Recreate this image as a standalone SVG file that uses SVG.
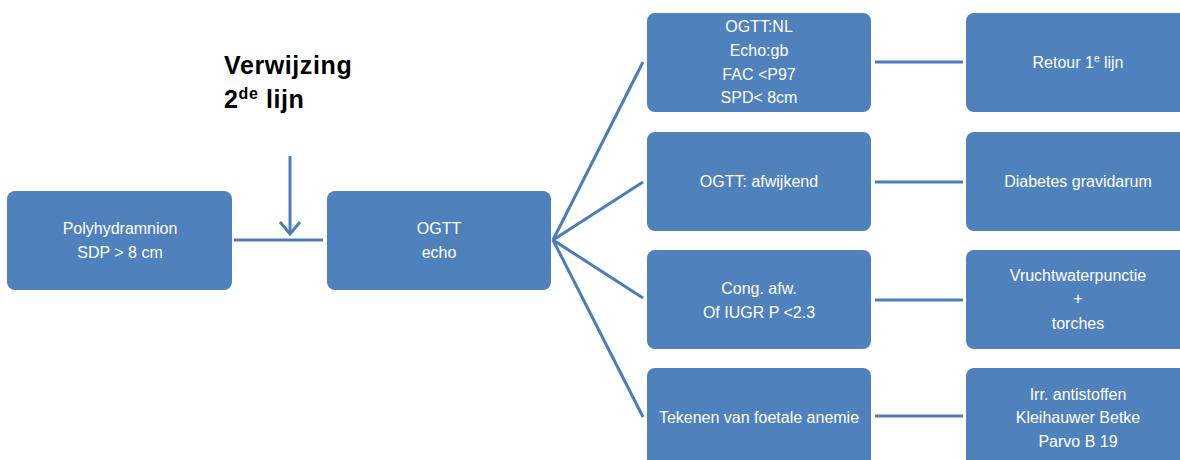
<svg xmlns="http://www.w3.org/2000/svg" width="1180" height="460" viewBox="0 0 1180 460">
<style>
.box{fill:#4F81BD;}
.t{fill:#FFFFFF;font-family:"Liberation Sans",Arial,sans-serif;font-size:16px;text-anchor:middle;}
.con{stroke:#4A7EBB;stroke-width:3;fill:none;}
.lbl{fill:#000000;font-family:"Liberation Sans",Arial,sans-serif;font-size:25px;font-weight:bold;letter-spacing:0.6px;}
</style>
<rect width="1180" height="460" fill="#FFFFFF"/>
<g id="connectors">
<line class="con" x1="234" y1="240" x2="323" y2="240"/>
<line class="con" x1="290" y1="156" x2="290" y2="234"/>
<polyline class="con" points="280,222 290,234 300,222"/>
<line class="con" x1="553" y1="240" x2="643" y2="62"/>
<line class="con" x1="553" y1="240" x2="643" y2="182"/>
<line class="con" x1="553" y1="240" x2="643" y2="298"/>
<line class="con" x1="553" y1="240" x2="643" y2="417"/>
<line class="con" x1="875" y1="62" x2="963" y2="62"/>
<line class="con" x1="875" y1="182" x2="963" y2="182"/>
<line class="con" x1="875" y1="300" x2="963" y2="300"/>
<line class="con" x1="875" y1="416" x2="963" y2="416"/>
</g>
<g id="label-verwijzing">
<text class="lbl" x="224" y="74">Verwijzing</text>
<text class="lbl" x="224" y="108">2<tspan font-size="16" dy="-9">de</tspan><tspan dy="9"> lijn</tspan></text>
</g>
<g id="n-polyhydramnion">
<rect class="box" x="7" y="191" width="225" height="99" rx="8"/>
<text class="t" x="120" y="234">Polyhydramnion</text>
<text class="t" x="120" y="258">SDP &gt; 8 cm</text>
</g>
<g id="n-ogtt-echo">
<rect class="box" x="327" y="191" width="224" height="99" rx="8"/>
<text class="t" x="439" y="234">OGTT</text>
<text class="t" x="439" y="258">echo</text>
</g>
<g id="n-ogtt-nl">
<rect class="box" x="647" y="13" width="224" height="99" rx="8"/>
<text class="t" x="759" y="32">OGTT:NL</text>
<text class="t" x="759" y="56">Echo:gb</text>
<text class="t" x="759" y="80">FAC &lt;P97</text>
<text class="t" x="759" y="103">SPD&lt; 8cm</text>
</g>
<g id="n-ogtt-afwijkend">
<rect class="box" x="647" y="132" width="224" height="99" rx="8"/>
<text class="t" x="759" y="187">OGTT: afwijkend</text>
</g>
<g id="n-cong">
<rect class="box" x="647" y="250" width="224" height="99" rx="8"/>
<text class="t" x="759" y="294">Cong. afw.</text>
<text class="t" x="759" y="318">Of IUGR P &lt;2.3</text>
</g>
<g id="n-anemie">
<rect class="box" x="647" y="368" width="224" height="110" rx="8"/>
<text class="t" x="759" y="423">Tekenen van foetale anemie</text>
</g>
<g id="n-retour">
<rect class="box" x="966" y="13" width="224" height="99" rx="8"/>
<text class="t" x="1078" y="68">Retour 1<tspan font-size="10" dy="-6">e</tspan><tspan dy="6"> lijn</tspan></text>
</g>
<g id="n-diabetes">
<rect class="box" x="966" y="132" width="224" height="99" rx="8"/>
<text class="t" x="1078" y="187">Diabetes gravidarum</text>
</g>
<g id="n-vruchtwater">
<rect class="box" x="966" y="250" width="224" height="99" rx="8"/>
<text class="t" x="1078" y="281">Vruchtwaterpunctie</text>
<text class="t" x="1078" y="304">+</text>
<text class="t" x="1078" y="329">torches</text>
</g>
<g id="n-irr">
<rect class="box" x="966" y="368" width="224" height="110" rx="8"/>
<text class="t" x="1078" y="400">Irr. antistoffen</text>
<text class="t" x="1078" y="423">Kleihauwer Betke</text>
<text class="t" x="1078" y="447">Parvo B 19</text>
</g>
</svg>
